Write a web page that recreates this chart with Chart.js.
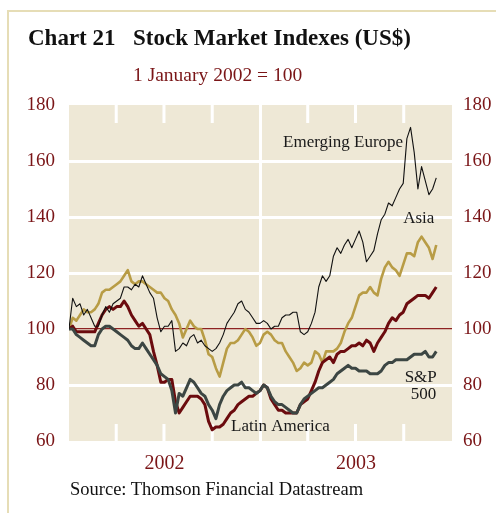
<!DOCTYPE html>
<html>
<head>
<meta charset="utf-8">
<script src="https://cdn.jsdelivr.net/npm/chart.js@4.4.0/dist/chart.umd.min.js"></script>
<style>
body { margin: 0; background: #fff; }
#wrap { position: relative; width: 496px; height: 513px; overflow: hidden; font-family: "Liberation Serif", serif; }
#marco { position: absolute; left: 7px; top: 10px; width: 600px; height: 600px; border-left: 2px solid #E6DDB6; border-top: 2px solid #E6DDB6; }
#canvas1 { position: absolute; left: 0; top: 0; }
.t { position: absolute; white-space: nowrap; line-height: 1; }
</style>
</head>
<body>
<div id="wrap">
<div id="marco"></div>
<canvas id="canvas1" width="496" height="513"></canvas>
<div class="t" style="left:28px;top:26px;font-size:23px;font-weight:bold;color:#111">Chart 21</div>
<div class="t" style="left:133px;top:26px;font-size:23px;font-weight:bold;color:#111">Stock Market Indexes (US$)</div>
<div class="t" style="left:133px;top:65px;font-size:19.5px;color:#7A1517">1 January 2002 = 100</div>
<div class="t" style="left:70px;top:480px;font-size:18.5px;color:#111">Source: Thomson Financial Datastream</div>
</div>
<script>
// dias desde el 1 de enero de 2002 (una muestra por semana)
var dias = [0,7,14,21,28,35,42,49,56,63,70,77,84,91,98,105,112,119,126,133,
  140,147,154,161,168,175,182,189,196,203,210,217,224,231,238,245,252,259,266,273,
  280,287,294,301,308,315,322,329,336,343,350,357,364,371,378,385,392,399,406,413,
  420,427,434,441,448,455,462,469,476,483,490,497,504,511,518,525,532,539,546,553,
  560,567,574,581,588,595,602,609,616,623,630,637,644,651,658,665,672,679,686,693,700];

var europa = [100,111,108,109,105,107,104,101,101,105,
  108,106,109,110,111,115,115,114,116,115,
  119,116,113,111,104,99,101,101,103,92,
  93,95,94,97,98,95,96,94,93,92,
  93,95,98,102,104,106,109,110,107,106,
  104,102,102,103,102,100,101,101,104,105,
  105,106,106,99,98,99,102,106,115,119,
  117,119,126,129,127,130,132,129,132,135,
  131,124,126,128,134,139,141,145,144,147,
  150,152,168,172,163,150,158,153,148,150,154];

var asia = [100,104,103,105,107,106,106,107,109,113,
  114,114,115,116,117,119,121,117,116,117,
  117,116,115,114,113,113,111,110,107,105,
  102,97,100,103,101,100,100,96,91,90,
  86,83,88,93,95,95,96,98,100,99,
  97,94,95,98,99,98,96,95,95,92,
  90,88,85,86,88,87,88,92,91,88,
  92,92,92,93,95,99,102,104,108,112,
  113,113,115,113,112,118,122,124,122,121,
  119,123,127,127,126,131,133,131,129,125,130];

var latam = [100,101,99,99,99,99,99,99,102,105,
  107,108,107,108,108,110,108,105,103,101,
  102,100,98,92,87,81,81,82,82,74,
  70,72,74,76,76,76,75,73,67,64,
  65,65,66,68,70,71,73,74,75,76,
  76,77,78,80,79,75,73,71,71,70,
  70,70,70,73,74,75,78,81,85,88,
  89,90,88,91,92,92,93,94,94,95,
  94,96,95,92,95,97,99,102,104,103,
  105,106,109,110,111,112,112,112,111,113,115];

var sp500 = [100,100,98,97,96,95,94,94,98,100,
  101,101,100,99,98,97,96,94,93,93,
  95,93,91,89,87,84,83,82,78,70,
  77,76,79,82,81,79,77,76,73,71,
  68,73,76,78,79,80,80,81,79,79,
  78,77,78,80,79,76,74,73,73,72,
  71,70,70,73,75,76,77,78,79,79,
  80,81,82,84,85,86,87,86,86,85,
  85,85,84,84,84,85,87,88,88,89,
  89,89,89,90,91,91,91,92,90,90,92];

var anios = ['2002', '2003'];
var mitadAnio = [182, 547];
var trimestres = [90, 181, 273, 365, 455, 546, 638];
var anioNuevo = 365;

var rojo = '#7A1517';
var fuente = 'Liberation Serif';

var fondo = {
  id: 'fondo',
  beforeDraw: function(chart) {
    var a = chart.chartArea, c = chart.ctx, x = chart.scales.x;
    c.save();
    c.fillStyle = '#EEE8D6';
    c.fillRect(a.left, a.top, a.right - a.left, a.bottom - a.top);
    c.strokeStyle = '#fff';
    c.lineWidth = 3;
    trimestres.forEach(function(d) {
      var px = x.getPixelForValue(d);
      c.beginPath();
      if (d === anioNuevo) {
        c.moveTo(px, a.top); c.lineTo(px, a.bottom);
      } else {
        c.moveTo(px, a.top); c.lineTo(px, a.top + 18);
        c.moveTo(px, a.bottom - 17); c.lineTo(px, a.bottom);
      }
      c.stroke();
    });
    c.restore();
  },
  afterDatasetsDraw: function(chart) {
    var x = chart.scales.x, y = chart.scales.y, c = chart.ctx;
    var etiquetas = [
      ['Emerging Europe', 408, 165, 'left'],
      ['Asia', 637, 137.9, 'left'],
      ['S&P', 701, 81.1, 'right'],
      ['500', 700, 75, 'right'],
      ['Latin America', 309, 63.4, 'left']
    ];
    c.save();
    c.font = '17px "' + fuente + '"';
    c.fillStyle = '#1a1a1a';
    c.textBaseline = 'alphabetic';
    etiquetas.forEach(function(e) {
      c.textAlign = e[3];
      c.fillText(e[0], x.getPixelForValue(e[1]), y.getPixelForValue(e[2]));
    });
    c.restore();
  }
};

function serie(datos, color, ancho) {
  return {
    data: datos,
    borderColor: color,
    borderWidth: ancho,
    pointRadius: 0,
    tension: 0,
    borderJoinStyle: 'round',
    fill: false
  };
}

var ctx = document.getElementById('canvas1').getContext('2d');
var grafico = new Chart(ctx, {
  type: 'line',
  data: {
    labels: dias,
    datasets: [
      serie(europa, '#111111', 1.1),
      serie(sp500, '#3C4643', 3),
      serie(latam, '#6B0B0E', 3),
      serie(asia, '#B89C45', 2.6)
    ]
  },
  plugins: [fondo],
  options: {
    responsive: false,
    animation: false,
    devicePixelRatio: 1,
    layout: { padding: { top: 105, bottom: 32, left: 0, right: 0 } },
    plugins: { legend: { display: false }, tooltip: { enabled: false } },
    scales: {
      x: {
        type: 'linear',
        min: 0,
        max: 730,
        grid: { display: false },
        border: { display: false },
        afterBuildTicks: function(s) {
          s.ticks = mitadAnio.map(function(v) { return { value: v }; });
        },
        afterFit: function(s) { s.height = 40; },
        ticks: {
          autoSkip: false,
          maxRotation: 0,
          padding: 3,
          color: rojo,
          font: { family: fuente, size: 20 },
          callback: function(v, i) { return anios[i]; }
        }
      },
      y: {
        position: 'left',
        min: 60,
        max: 180,
        afterFit: function(s) { s.width = 69; },
        border: { display: false },
        grid: {
          drawTicks: false,
          color: function(c) {
            var v = c.tick.value;
            if (v === 100) return '#8E2222';
            if (v === 60 || v === 180) return 'rgba(0,0,0,0)';
            return '#ffffff';
          },
          lineWidth: function(c) { return c.tick.value === 100 ? 1.2 : 3; }
        },
        ticks: { stepSize: 20, padding: 14, color: rojo, font: { family: fuente, size: 19 } }
      },
      y2: {
        position: 'right',
        min: 60,
        max: 180,
        afterFit: function(s) { s.width = 44; },
        border: { display: false },
        grid: { display: false, drawTicks: false },
        ticks: { stepSize: 20, padding: 11, color: rojo, font: { family: fuente, size: 19 } }
      }
    }
  }
});
</script>
</body>
</html>
